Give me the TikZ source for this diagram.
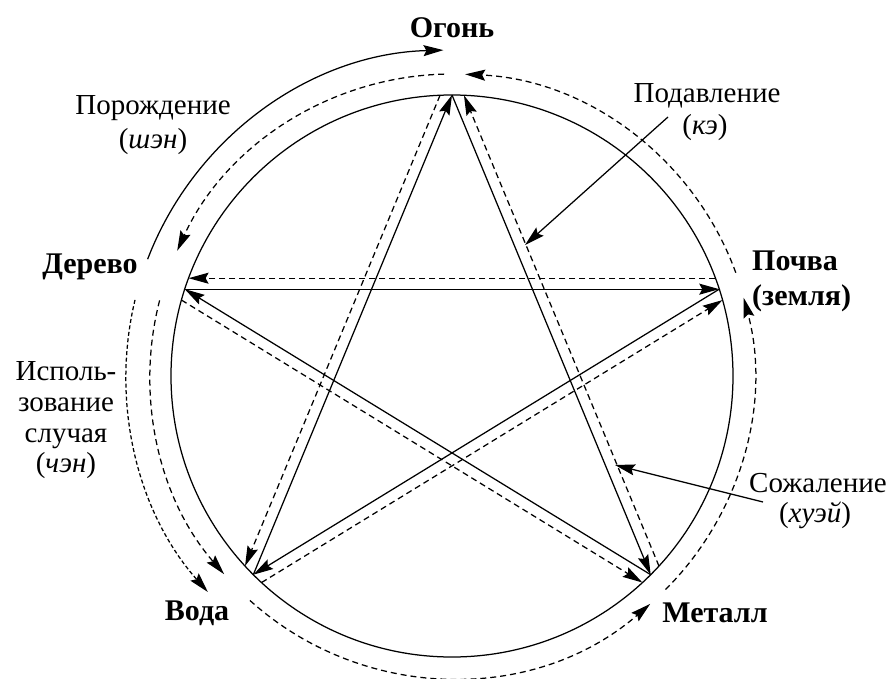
\documentclass[tikz,border=0pt]{standalone}
\usepackage{fontspec}
\setmainfont{Liberation Serif}
\usetikzlibrary{arrows.meta}
\begin{document}
\begin{tikzpicture}[x=1pt,y=1pt,
  lw/.style={line width=1.25pt},
  tip/.style={-{Stealth[length=20pt,width=11pt,inset=3pt]}},
  ctrl/.style={lw,tip},
  rev/.style={lw,tip,dash pattern=on 6pt off 4pt},
  fine/.style={lw,tip,dash pattern=on 4pt off 2.5pt},
  elem/.style={font=\fontsize{30}{36}\selectfont\bfseries, inner sep=0pt, anchor=base},
  note/.style={font=\fontsize{29}{34}\selectfont, inner sep=0pt, anchor=base}]
\useasboundingbox (-452,-302) rectangle (439,376);
% main circle
\draw[lw] (0,0) circle[radius=281];
% vertices
\coordinate (fire)  at (90:281);
\coordinate (earth) at (18:281);
\coordinate (metal) at (315:281);
\coordinate (water) at (225:281);
\coordinate (wood)  at (162:281);
% offset end points of the dashed chords
\coordinate (fireA)  at (92.44:281);
\coordinate (waterA) at (222.56:281);
\coordinate (fireB)  at (87.56:281);
\coordinate (metalB) at (-42.56:281);
\coordinate (woodC)  at (159.63:281);
\coordinate (earthC) at (20.37:281);
\coordinate (woodD)  at (164.32:281);
\coordinate (metalD) at (312.68:281);
\coordinate (waterE) at (227.32:281);
\coordinate (earthE) at (15.68:281);
% control (solid)
\draw[ctrl] (water) -- (fire);
\draw[ctrl] (fire) -- (metal);
\draw[ctrl] (wood) -- (earth);
\draw[ctrl] (metal) -- (wood);
\draw[ctrl] (earth) -- (water);
% reverse (dashed)
\draw[rev] (fireA) -- (waterA);
\draw[rev] (metalB) -- (fireB);
\draw[rev] (earthC) -- (woodC);
\draw[rev] (woodD) -- (metalD);
\draw[rev] (waterE) -- (earthE);
% arcs
\draw[rev] (91.5:302) arc[start angle=91.5,end angle=155.5,radius=302];
\draw[rev] (20:302) arc[start angle=20,end angle=87.5,radius=302];
\draw[rev] (-45:302) arc[start angle=-45,end angle=15,radius=302];
\draw[rev] (228:302) arc[start angle=228,end angle=311,radius=302];
\draw[rev] (165.5:302) arc[start angle=165.5,end angle=221,radius=302];
\draw[ctrl] (159:326) arc[start angle=159,end angle=91.5,radius=326];
\draw[fine] (166.5:326) arc[start angle=166.5,end angle=221.5,radius=326];
% element labels
\node[elem] (lfire) at (0,338) {Огонь};
\node[elem] (lwood) at (-362,103) {Дерево};
\node[elem,anchor=base west] (learth1) at (300,106) {Почва};
\node[elem,anchor=base west] (learth2) at (300,71) {(земля)};
\node[elem] (lwater) at (-255,-244) {Вода};
\node[elem] (lmetal) at (263,-246) {Металл};
% notes
\node[note] (shen1) at (-299,261) {Порождение};
\node[note] (shen2) at (-299,228) {(\textit{шэн})};
\node[note] (ke1) at (255,273) {Подавление};
\node[note] (ke2) at (253,241) {(\textit{кэ})};
\node[note] (hui1) at (366,-116) {Сожаление};
\node[note] (hui2) at (363,-146) {(\textit{хуэй})};
\node[note] (chen1) at (-386,-4) {Исполь-};
\node[note] (chen2) at (-386,-35) {зование};
\node[note] (chen3) at (-386,-66) {случая};
\node[note] (chen4) at (-386,-96) {(\textit{чэн})};
% pointer arrows
\coordinate (kestart) at (216,259);
\coordinate (ketip) at (73,131);
\coordinate (huistart) at (311,-126);
\coordinate (huitip) at (163,-89);
\draw[ctrl] (kestart) -- (ketip);
\draw[ctrl] (huistart) -- (huitip);
\end{tikzpicture}
\end{document}
